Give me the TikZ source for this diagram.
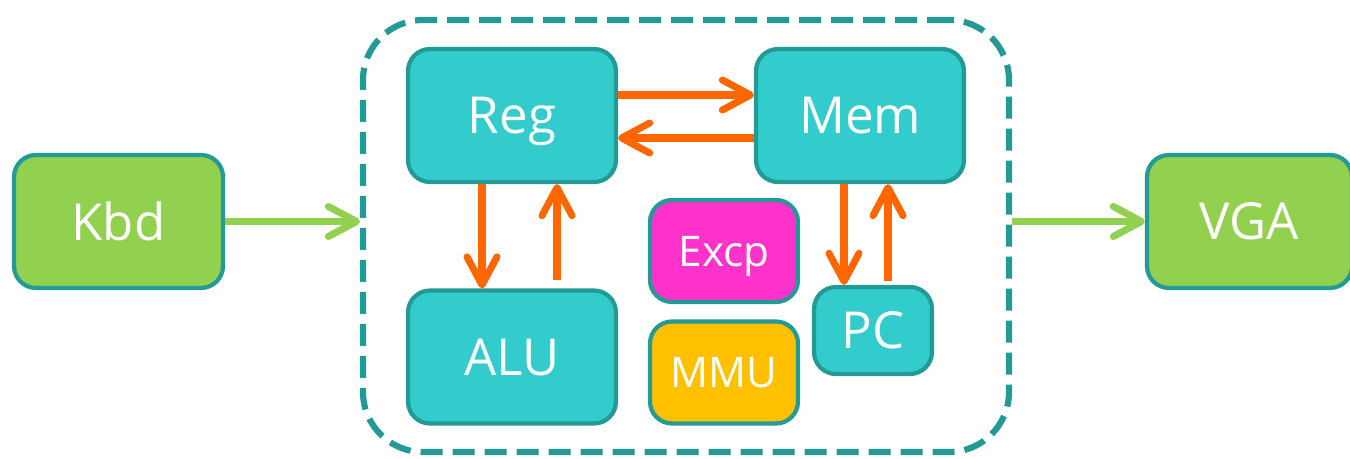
\documentclass[tikz,border=0pt]{standalone}
\usepackage{fontspec}
\setmainfont{Open Sans}
\usepackage{tikz}
\usetikzlibrary{arrows.meta,calc,positioning}
\definecolor{Teal}{HTML}{239A96}
\definecolor{Cyan}{HTML}{33CCCC}
\definecolor{Lime}{HTML}{92D050}
\definecolor{Magenta}{HTML}{FF33CC}
\definecolor{Gold}{HTML}{FFC000}
\definecolor{Orange}{HTML}{FF6600}
\begin{document}
\begin{tikzpicture}[
    unit/.style={draw=Teal,line width=1.2pt,rounded corners=2.2mm,text=white,text depth=0pt,
      minimum width=2.08cm,minimum height=1.33cm,font=\fontsize{14.5}{17}\selectfont},
    small/.style={unit,minimum width=1.48cm,minimum height=1.02cm,font=\fontsize{12}{14}\selectfont},
    flow/.style={Orange,line width=2pt,-{Straight Barb[length=2.8mm,width=3mm,round]}},
    io/.style={Lime,line width=2pt,-{Straight Barb[length=2.8mm,width=3mm,round]}}]
        \useasboundingbox (0,0) rectangle (13.5,4.59);
        % the dashed core with its parts
        \node[draw=Teal,line width=1.75pt,dash pattern=on 2.2mm off 1mm,rounded corners=6mm,
          minimum width=6.46cm,minimum height=4.32cm] (core) at (6.86,2.23) {};
        \node[unit,fill=Cyan] (reg) at (5.12,3.435) {Reg};
        \node[unit,fill=Cyan] (mem) at (8.60,3.435) {Mem};
        \node[unit,fill=Cyan] (alu) at (5.12,1.02) {ALU};
        \node[small,fill=Magenta] (excp) at (7.24,2.08) {Excp};
        \node[small,fill=Gold] (mmu) at (7.24,0.865) {MMU};
        \node[unit,fill=Cyan,minimum width=1.18cm,minimum height=0.87cm] (pc) at (8.73,1.285) {PC};
        % devices outside
        \node[unit,fill=Lime,minimum width=2.09cm] (kbd) at (1.185,2.375) {Kbd};
        \node[unit,fill=Lime,minimum width=2.05cm] (vga) at (12.495,2.375) {VGA};
        % data paths
        \draw[flow] ([yshift=2.05mm]reg.east) -- ([yshift=2.05mm]reg.east -| mem.west);
        \draw[flow] ([yshift=-2.25mm]mem.west) -- ([yshift=-2.25mm]mem.west -| reg.east);
        \draw[flow] ([xshift=-3mm]reg.south) -- ([xshift=-3mm]reg.south |- alu.north);
        \draw[flow] ([xshift=4.5mm,yshift=0.8mm]alu.north) -- ([xshift=4.5mm]alu.north |- reg.south);
        \draw[flow] ([xshift=-1.6mm]mem.south) -- ([xshift=-1.6mm]mem.south |- pc.north);
        \draw[flow] ([xshift=1.5mm,yshift=0.4mm]pc.north) -- ([xshift=1.5mm]pc.north |- mem.south);
        \draw[io] (kbd.east) -- (kbd.east -| core.west);
        \draw[io] (vga.west -| core.east) -- (vga.west);
\end{tikzpicture}
\end{document}
